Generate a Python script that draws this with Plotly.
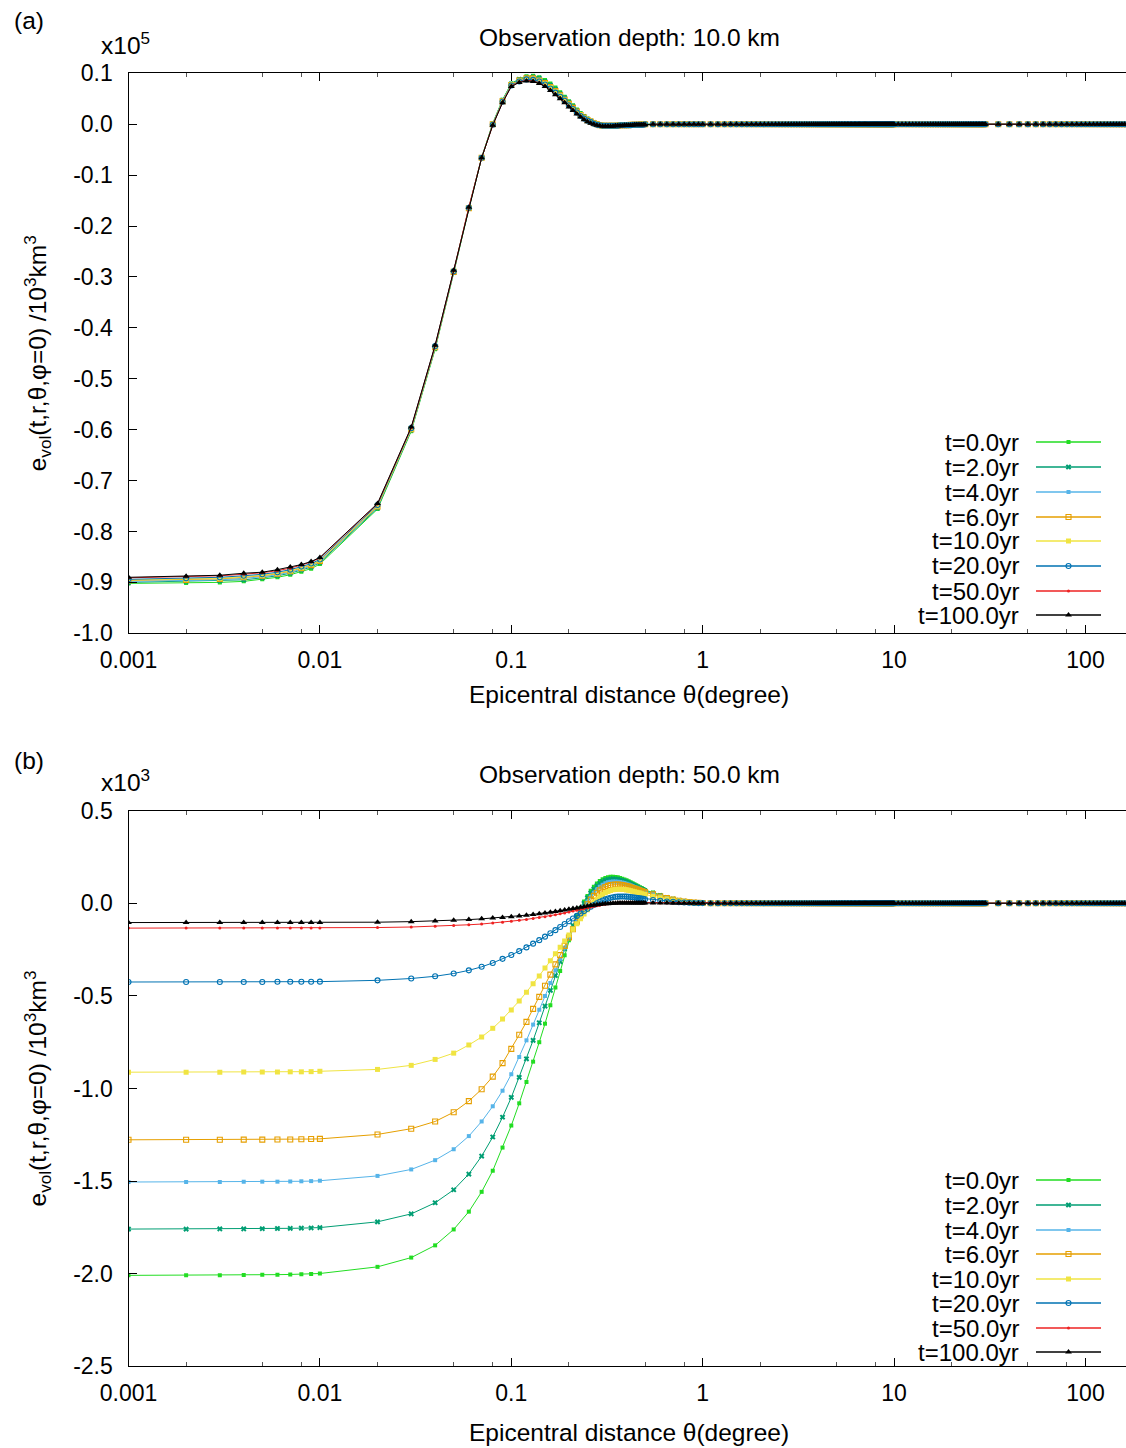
import plotly.graph_objects as go

# ---------------- sampling in epicentral distance (degree) ----------------
THETA_FINE = [0.001, 0.002, 0.003, 0.004, 0.005, 0.006, 0.007, 0.008, 0.009]
THETA_MID = [0.01, 0.02, 0.03, 0.04, 0.05, 0.06, 0.07, 0.08, 0.09]
THETA_PEAK = [0.10, 0.11, 0.12, 0.13, 0.14, 0.15, 0.16, 0.17, 0.18, 0.19,
              0.20, 0.21, 0.22, 0.23, 0.24, 0.25, 0.26, 0.27, 0.28, 0.29,
              0.30, 0.31, 0.32, 0.33, 0.34, 0.35, 0.36, 0.37, 0.38, 0.39,
              0.40, 0.41, 0.42, 0.43, 0.44, 0.45, 0.46, 0.47, 0.48, 0.49, 0.50]
THETA_OUTER = [0.55, 0.60, 0.65, 0.70, 0.75, 0.80, 0.85, 0.90, 0.95, 1.00]
THETA_FAR = [
    1.1, 1.2, 1.3, 1.4, 1.5, 1.6, 1.7, 1.8, 1.9, 2.0,
    2.1, 2.2, 2.3, 2.4, 2.5, 2.6, 2.7, 2.8, 2.9, 3.0,
    3.1, 3.2, 3.3, 3.4, 3.5, 3.6, 3.7, 3.8, 3.9, 4.0,
    4.1, 4.2, 4.3, 4.4, 4.5, 4.6, 4.7, 4.8, 4.9, 5.0,
    5.1, 5.2, 5.3, 5.4, 5.5, 5.6, 5.7, 5.8, 5.9, 6.0,
    6.1, 6.2, 6.3, 6.4, 6.5, 6.6, 6.7, 6.8, 6.9, 7.0,
    7.1, 7.2, 7.3, 7.4, 7.5, 7.6, 7.7, 7.8, 7.9, 8.0,
    8.1, 8.2, 8.3, 8.4, 8.5, 8.6, 8.7, 8.8, 8.9, 9.0,
    9.1, 9.2, 9.3, 9.4, 9.5, 9.6, 9.7, 9.8, 9.9, 10.0,
    10.5, 11.0, 11.5, 12.0, 12.5, 13.0, 13.5, 14.0, 14.5, 15.0,
    15.5, 16.0, 16.5, 17.0, 17.5, 18.0, 18.5, 19.0, 19.5, 20.0,
    20.5, 21.0, 21.5, 22.0, 22.5, 23.0, 23.5, 24.0, 24.5, 25.0,
    25.5, 26.0, 26.5, 27.0, 27.5, 28.0, 28.5, 29.0, 29.5, 30.0,
    35, 40, 45, 50, 55, 60, 65, 70, 75, 80,
    85, 90, 95, 100, 105, 110, 115, 120, 125, 130,
    135, 140, 145, 150, 155, 160, 165, 170, 175, 180]
# beyond 1 degree every curve sits on zero
FAR_ZERO = [0.0] * len(THETA_FAR)

TIMES = ["t=0.0yr", "t=2.0yr", "t=4.0yr", "t=6.0yr",
         "t=10.0yr", "t=20.0yr", "t=50.0yr", "t=100.0yr"]
COLORS = ["#22dd22", "#009e73", "#56b4e9", "#e69f00",
          "#f0e442", "#0072b2", "#ee2222", "#000000"]
SYMBOLS = ["square", "x", "square", "square-open",
           "square", "circle-open", "circle", "triangle-up"]
SIZES = [4, 5, 4, 5, 5, 5, 3, 6]

# ---------------- (a) depth 10 km, units of 1e5 ----------------
A_T0 = [-0.902, -0.901, -0.900, -0.898, -0.894, -0.890, -0.885, -0.879, -0.873,
        -0.864, -0.756, -0.603, -0.442, -0.292, -0.166, -0.066, 0.002, 0.048,
        0.080, 0.089, 0.094, 0.095, 0.092, 0.087, 0.080, 0.072, 0.063, 0.054,
        0.045, 0.037, 0.029, 0.022, 0.016, 0.011, 0.007, 0.004, 0.002, 0.000,
        -0.001, -0.002, -0.002, -0.002, -0.002, -0.002, -0.002, -0.001, -0.001, -0.001,
        -0.001, -0.001, -0.001, -0.001, -0.001, -0.001, 0.000, 0.000, 0.000, 0.000, 0.000,
        0.0, 0.0, 0.0, 0.0, 0.0, 0.0, 0.0, 0.0, 0.0, 0.0]
A_T2 = [-0.900, -0.898, -0.897, -0.895, -0.891, -0.887, -0.882, -0.876, -0.870,
        -0.861, -0.754, -0.601, -0.440, -0.291, -0.165, -0.066, 0.001, 0.047,
        0.079, 0.088, 0.092, 0.093, 0.090, 0.084, 0.077, 0.069, 0.060, 0.052,
        0.043, 0.035, 0.027, 0.020, 0.015, 0.010, 0.006, 0.003, 0.001, -0.001,
        -0.002, -0.002, -0.002, -0.002, -0.002, -0.002, -0.002, -0.001, -0.001, -0.001,
        -0.001, -0.001, -0.001, -0.001, -0.001, -0.001, 0.000, 0.000, 0.000, 0.000, 0.000,
        0.0, 0.0, 0.0, 0.0, 0.0, 0.0, 0.0, 0.0, 0.0, 0.0]
A_T4 = [-0.898, -0.897, -0.895, -0.892, -0.889, -0.885, -0.880, -0.874, -0.868,
        -0.859, -0.752, -0.600, -0.439, -0.290, -0.165, -0.066, 0.001, 0.046,
        0.078, 0.087, 0.091, 0.091, 0.088, 0.082, 0.075, 0.067, 0.058, 0.050,
        0.041, 0.034, 0.026, 0.019, 0.014, 0.009, 0.005, 0.003, 0.001, -0.001,
        -0.002, -0.003, -0.003, -0.003, -0.003, -0.002, -0.002, -0.002, -0.002, -0.001,
        -0.001, -0.001, -0.001, -0.001, -0.001, -0.001, -0.001, 0.000, 0.000, 0.000, 0.000,
        0.0, 0.0, 0.0, 0.0, 0.0, 0.0, 0.0, 0.0, 0.0, 0.0]
A_T6 = [-0.896, -0.895, -0.893, -0.890, -0.887, -0.883, -0.878, -0.872, -0.866,
        -0.858, -0.751, -0.599, -0.438, -0.290, -0.165, -0.066, 0.000, 0.045,
        0.077, 0.086, 0.090, 0.090, 0.086, 0.081, 0.073, 0.065, 0.057, 0.048,
        0.040, 0.032, 0.025, 0.018, 0.013, 0.008, 0.005, 0.002, 0.000, -0.002,
        -0.003, -0.003, -0.003, -0.003, -0.003, -0.003, -0.003, -0.002, -0.002, -0.002,
        -0.002, -0.002, -0.001, -0.001, -0.001, -0.001, -0.001, -0.001, 0.000, 0.000, 0.000,
        0.0, 0.0, 0.0, 0.0, 0.0, 0.0, 0.0, 0.0, 0.0, 0.0]
A_T10 = [-0.895, -0.894, -0.892, -0.889, -0.886, -0.882, -0.877, -0.871, -0.865,
         -0.857, -0.750, -0.599, -0.438, -0.289, -0.164, -0.066, 0.000, 0.045,
         0.077, 0.085, 0.089, 0.089, 0.085, 0.080, 0.072, 0.064, 0.056, 0.047,
         0.039, 0.031, 0.024, 0.018, 0.012, 0.008, 0.004, 0.002, 0.000, -0.002,
         -0.003, -0.003, -0.003, -0.003, -0.003, -0.003, -0.003, -0.002, -0.002, -0.002,
         -0.002, -0.002, -0.001, -0.001, -0.001, -0.001, -0.001, -0.001, 0.000, 0.000, 0.000,
         0.0, 0.0, 0.0, 0.0, 0.0, 0.0, 0.0, 0.0, 0.0, 0.0]
A_T20 = [-0.894, -0.892, -0.890, -0.887, -0.884, -0.880, -0.875, -0.869, -0.863,
         -0.855, -0.748, -0.597, -0.436, -0.289, -0.164, -0.066, -0.001, 0.044,
         0.076, 0.084, 0.088, 0.087, 0.084, 0.078, 0.070, 0.062, 0.054, 0.046,
         0.037, 0.030, 0.023, 0.016, 0.011, 0.007, 0.004, 0.001, -0.001, -0.002,
         -0.003, -0.003, -0.003, -0.003, -0.003, -0.003, -0.003, -0.002, -0.002, -0.002,
         -0.002, -0.002, -0.002, -0.001, -0.001, -0.001, -0.001, -0.001, -0.001, -0.001, 0.000,
         0.0, 0.0, 0.0, 0.0, 0.0, 0.0, 0.0, 0.0, 0.0, 0.0]
A_T50 = [-0.891, -0.889, -0.887, -0.884, -0.881, -0.877, -0.872, -0.866, -0.860,
         -0.852, -0.746, -0.596, -0.435, -0.288, -0.163, -0.066, -0.002, 0.043,
         0.075, 0.083, 0.086, 0.085, 0.081, 0.075, 0.067, 0.059, 0.051, 0.043,
         0.035, 0.028, 0.021, 0.015, 0.010, 0.006, 0.002, 0.000, -0.002, -0.003,
         -0.004, -0.004, -0.004, -0.004, -0.004, -0.003, -0.003, -0.003, -0.003, -0.002,
         -0.002, -0.002, -0.002, -0.002, -0.001, -0.001, -0.001, -0.001, -0.001, -0.001, -0.001,
         0.0, 0.0, 0.0, 0.0, 0.0, 0.0, 0.0, 0.0, 0.0, 0.0]
A_T100 = [-0.890, -0.888, -0.886, -0.882, -0.880, -0.875, -0.870, -0.865, -0.859,
          -0.851, -0.745, -0.595, -0.434, -0.287, -0.163, -0.066, -0.002, 0.042,
          0.074, 0.082, 0.085, 0.084, 0.080, 0.074, 0.066, 0.058, 0.050, 0.042,
          0.034, 0.027, 0.020, 0.014, 0.009, 0.005, 0.002, 0.000, -0.002, -0.003,
          -0.004, -0.004, -0.004, -0.004, -0.004, -0.003, -0.003, -0.003, -0.003, -0.002,
          -0.002, -0.002, -0.002, -0.002, -0.001, -0.001, -0.001, -0.001, -0.001, -0.001, -0.001,
          0.0, 0.0, 0.0, 0.0, 0.0, 0.0, 0.0, 0.0, 0.0, 0.0]

# ---------------- (b) depth 50 km, units of 1e3 ----------------
B_T0 = [-2.009, -2.009, -2.008, -2.007, -2.006, -2.005, -2.004, -2.003, -2.002,
        -1.999, -1.963, -1.913, -1.847, -1.761, -1.665, -1.558, -1.444, -1.319,
        -1.200, -1.080, -0.965, -0.855, -0.750, -0.650, -0.550, -0.455, -0.365, -0.280,
        -0.200, -0.130, -0.070, -0.025, 0.010, 0.040, 0.068, 0.090, 0.107, 0.120,
        0.130, 0.137, 0.141, 0.143, 0.143, 0.142, 0.140, 0.137, 0.133, 0.129,
        0.124, 0.119, 0.114, 0.108, 0.103, 0.097, 0.092, 0.087, 0.082, 0.077, 0.072,
        0.058, 0.045, 0.033, 0.024, 0.017, 0.012, 0.008, 0.005, 0.003, 0.002]
B_T2 = [-1.759, -1.759, -1.758, -1.758, -1.757, -1.756, -1.755, -1.754, -1.753,
        -1.751, -1.720, -1.677, -1.617, -1.547, -1.462, -1.365, -1.262, -1.155,
        -1.048, -0.940, -0.840, -0.740, -0.645, -0.555, -0.470, -0.390, -0.315, -0.245,
        -0.180, -0.120, -0.070, -0.030, 0.000, 0.030, 0.055, 0.077, 0.095, 0.108,
        0.118, 0.125, 0.129, 0.131, 0.132, 0.131, 0.129, 0.126, 0.123, 0.119,
        0.115, 0.110, 0.105, 0.100, 0.095, 0.090, 0.085, 0.080, 0.076, 0.071, 0.067,
        0.054, 0.042, 0.031, 0.022, 0.016, 0.011, 0.007, 0.005, 0.003, 0.002]
B_T4 = [-1.505, -1.505, -1.505, -1.504, -1.503, -1.503, -1.502, -1.501, -1.500,
        -1.498, -1.472, -1.437, -1.387, -1.328, -1.257, -1.178, -1.096, -1.012,
        -0.923, -0.830, -0.740, -0.655, -0.575, -0.500, -0.430, -0.362, -0.300, -0.240,
        -0.185, -0.135, -0.090, -0.050, -0.018, 0.010, 0.035, 0.057, 0.075, 0.089,
        0.100, 0.108, 0.113, 0.116, 0.118, 0.118, 0.117, 0.115, 0.112, 0.109,
        0.105, 0.101, 0.097, 0.093, 0.088, 0.084, 0.080, 0.076, 0.072, 0.068, 0.064,
        0.052, 0.040, 0.030, 0.022, 0.015, 0.011, 0.007, 0.005, 0.003, 0.002]
B_T6 = [-1.277, -1.277, -1.277, -1.276, -1.276, -1.275, -1.275, -1.274, -1.273,
        -1.272, -1.248, -1.217, -1.178, -1.128, -1.068, -1.004, -0.936, -0.863,
        -0.786, -0.710, -0.640, -0.570, -0.505, -0.445, -0.385, -0.330, -0.280, -0.230,
        -0.185, -0.140, -0.100, -0.065, -0.033, -0.005, 0.020, 0.040, 0.057, 0.070,
        0.080, 0.088, 0.094, 0.098, 0.100, 0.101, 0.101, 0.100, 0.098, 0.096,
        0.093, 0.090, 0.087, 0.083, 0.080, 0.076, 0.073, 0.069, 0.066, 0.062, 0.059,
        0.048, 0.037, 0.028, 0.020, 0.014, 0.010, 0.007, 0.004, 0.003, 0.002]
B_T10 = [-0.912, -0.912, -0.912, -0.911, -0.911, -0.911, -0.910, -0.910, -0.909,
         -0.907, -0.897, -0.875, -0.843, -0.809, -0.765, -0.722, -0.675, -0.625,
         -0.576, -0.527, -0.480, -0.435, -0.392, -0.350, -0.310, -0.273, -0.237, -0.203,
         -0.171, -0.140, -0.111, -0.084, -0.058, -0.035, -0.014, 0.005, 0.022, 0.036,
         0.048, 0.057, 0.064, 0.069, 0.073, 0.075, 0.076, 0.076, 0.075, 0.074,
         0.072, 0.070, 0.068, 0.065, 0.063, 0.060, 0.057, 0.055, 0.052, 0.049, 0.047,
         0.038, 0.030, 0.023, 0.017, 0.012, 0.009, 0.006, 0.004, 0.003, 0.002]
B_T20 = [-0.425, -0.425, -0.425, -0.425, -0.425, -0.424, -0.424, -0.424, -0.424,
         -0.423, -0.416, -0.406, -0.394, -0.379, -0.362, -0.343, -0.322, -0.300,
         -0.279, -0.258, -0.238, -0.218, -0.199, -0.180, -0.162, -0.145, -0.128, -0.112,
         -0.097, -0.082, -0.068, -0.055, -0.042, -0.030, -0.019, -0.009, 0.000, 0.008,
         0.015, 0.021, 0.026, 0.030, 0.033, 0.035, 0.036, 0.037, 0.037, 0.037,
         0.036, 0.035, 0.034, 0.033, 0.031, 0.030, 0.028, 0.027, 0.025, 0.024, 0.022,
         0.018, 0.014, 0.010, 0.008, 0.006, 0.004, 0.003, 0.002, 0.001, 0.001]
B_T50 = [-0.134, -0.134, -0.134, -0.134, -0.134, -0.134, -0.133, -0.133, -0.133,
         -0.133, -0.131, -0.128, -0.124, -0.120, -0.116, -0.112, -0.107, -0.102,
         -0.097, -0.092, -0.087, -0.082, -0.077, -0.072, -0.067, -0.062, -0.057, -0.052,
         -0.047, -0.042, -0.037, -0.032, -0.028, -0.024, -0.020, -0.016, -0.013, -0.010,
         -0.007, -0.005, -0.003, -0.001, 0.000, 0.001, 0.002, 0.003, 0.003, 0.004,
         0.004, 0.004, 0.004, 0.004, 0.004, 0.004, 0.004, 0.003, 0.003, 0.003, 0.003,
         0.003, 0.002, 0.002, 0.002, 0.001, 0.001, 0.001, 0.001, 0.000, 0.000]
B_T100 = [-0.104, -0.104, -0.104, -0.104, -0.104, -0.104, -0.104, -0.104, -0.104,
          -0.104, -0.102, -0.099, -0.096, -0.092, -0.088, -0.084, -0.080, -0.076,
          -0.072, -0.068, -0.064, -0.060, -0.056, -0.052, -0.048, -0.044, -0.040, -0.036,
          -0.032, -0.028, -0.025, -0.021, -0.018, -0.015, -0.012, -0.010, -0.008, -0.006,
          -0.004, -0.003, -0.002, -0.001, 0.000, 0.000, 0.001, 0.001, 0.001, 0.001,
          0.001, 0.001, 0.001, 0.001, 0.001, 0.001, 0.001, 0.001, 0.001, 0.001, 0.001,
          0.001, 0.001, 0.001, 0.000, 0.000, 0.000, 0.000, 0.000, 0.000, 0.000]

PANEL_A = [A_T0, A_T2, A_T4, A_T6, A_T10, A_T20, A_T50, A_T100]
PANEL_B = [B_T0, B_T2, B_T4, B_T6, B_T10, B_T20, B_T50, B_T100]

X_TICKS = [0.001, 0.01, 0.1, 1, 10, 100]
X_TICK_TEXT = ["0.001", "0.01", "0.1", "1", "10", "100"]
X_MINOR = [0.002, 0.005, 0.008, 0.02, 0.05, 0.08, 0.2, 0.5, 0.8,
           2, 5, 8, 20, 50, 80]
Y_TICKS_A = [-1.0, -0.9, -0.8, -0.7, -0.6, -0.5, -0.4, -0.3, -0.2, -0.1, 0.0, 0.1]
Y_TEXT_A = ["-1.0", "-0.9", "-0.8", "-0.7", "-0.6", "-0.5", "-0.4", "-0.3",
            "-0.2", "-0.1", "0.0", "0.1"]
Y_TICKS_B = [-2.5, -2.0, -1.5, -1.0, -0.5, 0.0, 0.5]
Y_TEXT_B = ["-2.5", "-2.0", "-1.5", "-1.0", "-0.5", "0.0", "0.5"]

# ---------------- page geometry (pixels) ----------------
W, H = 1126, 1448
PLOT_LEFT = 128.5
A_TOP, A_BOTTOM = 73.3, 633.3
B_TOP, B_BOTTOM = 810.7, 1366.3
DECADE_PX = 191.4
X_MAX_LOG = -3 + (W - PLOT_LEFT) / DECADE_PX

FONT = "Liberation Sans, Arial, Helvetica, sans-serif"
theta = THETA_FINE + THETA_MID + THETA_PEAK + THETA_OUTER + THETA_FAR

for series in PANEL_A + PANEL_B:
    assert len(series) + len(FAR_ZERO) == len(theta)


def px(x, y):
    return x / W, 1 - y / H


fig = go.Figure()

for panel, (xa, ya) in ((PANEL_A, ("x", "y")), (PANEL_B, ("x2", "y2"))):
    for name, vals, col, sym, sz in zip(TIMES, panel, COLORS, SYMBOLS, SIZES):
        open_sym = sym.endswith("open")
        fig.add_trace(go.Scatter(
            x=theta, y=vals + FAR_ZERO, name=name, xaxis=xa, yaxis=ya,
            mode="lines+markers", showlegend=False,
            line=dict(color=col, width=1),
            marker=dict(symbol=sym, size=sz, color=col,
                        line=dict(color=col, width=1.1 if open_sym else 0)),
        ))

# key rows drawn on a full-page pixel overlay: label text left, sample line right
KEY_ROWS_A = [442, 467, 492, 517, 541, 566, 591, 615]
KEY_ROWS_B = [1180, 1205, 1230, 1254, 1279, 1303, 1328, 1352]
for rows in (KEY_ROWS_A, KEY_ROWS_B):
    for name, col, sym, sz, yk in zip(TIMES, COLORS, SYMBOLS, SIZES, rows):
        fig.add_trace(go.Scatter(
            x=[1036, 1101], y=[yk, yk], xaxis="x3", yaxis="y3",
            mode="lines", line=dict(color=col, width=1.3),
            showlegend=False, hoverinfo="skip"))
        fig.add_trace(go.Scatter(
            x=[1068.5], y=[yk], xaxis="x3", yaxis="y3", mode="markers",
            marker=dict(symbol=sym, size=sz, color=col,
                        line=dict(color=col, width=1.1 if sym.endswith("open") else 0)),
            showlegend=False, hoverinfo="skip"))
        xx, yy = px(1021, yk)
        fig.add_annotation(x=xx, y=yy, xref="paper", yref="paper", text=name,
                           showarrow=False, xanchor="right", yanchor="middle",
                           font=dict(size=24, color="black", family=FONT))

common_x = dict(
    type="log", range=[-3, X_MAX_LOG], domain=[PLOT_LEFT / W, 1],
    tickvals=X_TICKS, ticktext=X_TICK_TEXT, ticks="inside", ticklen=8,
    tickwidth=1, tickcolor="black", showline=True, linecolor="black",
    linewidth=1.2, mirror="ticks", showgrid=False, zeroline=False,
    automargin=False,
    tickfont=dict(size=23, color="black", family=FONT), ticklabelstandoff=6,
    minor=dict(tickvals=X_MINOR, ticks="inside", ticklen=4, tickwidth=1,
               tickcolor="#555555", showgrid=False),
)
common_y = dict(
    ticks="inside", ticklen=8, tickwidth=1, tickcolor="black", showline=True,
    linecolor="black", linewidth=1.2, mirror=False, showgrid=False,
    zeroline=False, automargin=False,
    tickfont=dict(size=23, color="black", family=FONT),
    ticklabelstandoff=10,
)

fig.update_layout(
    width=W, height=H,
    margin=dict(l=0, r=0, t=0, b=0, pad=0, autoexpand=False),
    paper_bgcolor="white", plot_bgcolor="rgba(0,0,0,0)",
    font=dict(family=FONT, color="black"),
    xaxis=dict(common_x, anchor="y"),
    yaxis=dict(common_y, anchor="x", range=[-1.0, 0.1],
               domain=[1 - A_BOTTOM / H, 1 - A_TOP / H],
               tickvals=Y_TICKS_A, ticktext=Y_TEXT_A),
    xaxis2=dict(common_x, anchor="y2"),
    yaxis2=dict(common_y, anchor="x2", range=[-2.5, 0.5],
                domain=[1 - B_BOTTOM / H, 1 - B_TOP / H],
                tickvals=Y_TICKS_B, ticktext=Y_TEXT_B),
    xaxis3=dict(domain=[0, 1], range=[0, W], visible=False, anchor="y3",
                fixedrange=True, automargin=False),
    yaxis3=dict(domain=[0, 1], range=[H, 0], visible=False, anchor="x3",
                fixedrange=True, automargin=False),
    showlegend=False,
)

YTITLE = "e<sub>vol</sub>(t,r,θ,φ=0) /10<sup>3</sup>km<sup>3</sup>"
XTITLE = "Epicentral distance θ(degree)"
texts = [
    ("(a)", 29, 21),
    ("x10<sup>5</sup>", 125, 44),
    ("Observation depth: 10.0 km", 629, 37),
    (XTITLE, 629, 694),
    ("(b)", 29, 760),
    ("x10<sup>3</sup>", 125, 780),
    ("Observation depth: 50.0 km", 629, 774),
    (XTITLE, 629, 1432),
]
for txt, x0, y0 in texts:
    xx, yy = px(x0, y0)
    fig.add_annotation(x=xx, y=yy, xref="paper", yref="paper", text=txt,
                       showarrow=False, xanchor="center", yanchor="middle",
                       font=dict(size=24.5, color="black", family=FONT))

for yc in ((A_TOP + A_BOTTOM) / 2, (B_TOP + B_BOTTOM) / 2):
    xx, yy = px(37, yc)
    fig.add_annotation(x=xx, y=yy, xref="paper", yref="paper", text=YTITLE,
                       textangle=-90, showarrow=False, xanchor="center",
                       yanchor="middle",
                       font=dict(size=24.5, color="black", family=FONT))

fig.write_html("out.html")
